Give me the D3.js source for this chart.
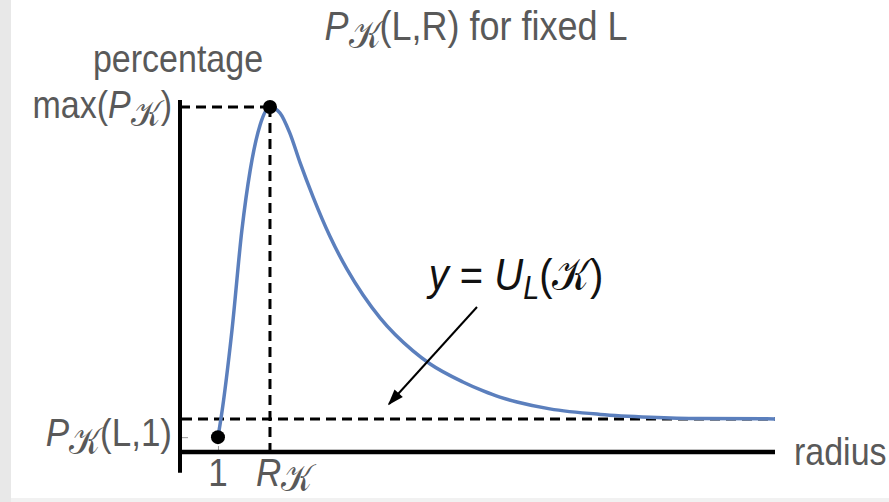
<!DOCTYPE html>
<html>
<head>
<meta charset="utf-8">
<script src="https://cdn.jsdelivr.net/npm/d3@7"></script>
<style>
  body { margin: 0; background: #fff; }
  text { font-family: "Liberation Sans", Arial, sans-serif; }
</style>
</head>
<body>
<div id="graphic"></div>
<script>
// values (radius in units of r, percentage scaled so max = 100)
let radius = [1.00, 1.06, 1.27, 1.46, 1.62, 1.81, 2.00, 2.19, 2.38, 2.58, 2.83, 3.15, 3.48, 3.79,
              4.12, 4.75, 5.08, 5.71, 6.10, 6.42, 6.75, 7.38, 8.35, 9.31, 10.27, 11.71];
let percentage = [4.3, 9.9, 35.4, 64.3, 81.7, 94.8, 100, 98.3, 92.5, 83.8, 73.9, 62.6, 53.0, 45.5,
                  38.8, 29.3, 25.5, 20.3, 17.7, 15.9, 14.5, 12.5, 10.9, 10.1, 9.7, 9.6];
let rK = 2.0;          // radius of the maximum
let pMax = 100;        // max(P_K)
let pAtOne = 4.3;      // P_K(L,1)
let uL = 9.6;          // asymptote U_L(K)
let xTicks = [1, rK];
let yTicks = [pAtOne, pMax];

let width = 889, height = 502;
let K = "\u{1D4A6}";

let svg = d3.select("#graphic")
  .append("svg")
    .attr("width", width)
    .attr("height", height);

// light frame at the left and bottom edge
svg.append("rect").attr("x", 0).attr("y", 0).attr("width", 11).attr("height", height).attr("fill", "#e8e8e8");
svg.append("rect").attr("x", 11).attr("y", 498).attr("width", width).attr("height", 4).attr("fill", "#f1f1f1");

let x = d3.scaleLinear().domain([0.27, 11.71]).range([180, 775]);
let y = d3.scaleLinear().domain([0, 100]).range([452, 107]);

// small grey ticks pointing inward
svg.append("g")
  .attr("transform", "translate(0," + y(0) + ")")
  .call(d3.axisBottom(x).tickValues(xTicks).tickSize(-6).tickFormat(""))
  .call(g => g.select(".domain").remove())
  .selectAll("line").attr("stroke", "#999").attr("stroke-width", 1);
svg.append("g")
  .attr("transform", "translate(" + x(0.27) + ",0)")
  .call(d3.axisLeft(y).tickValues(yTicks).tickSize(-8).tickFormat(""))
  .call(g => g.select(".domain").remove())
  .selectAll("line").attr("stroke", "#999").attr("stroke-width", 1);

// dashed guides
let dash = "10,6";
svg.append("line")
  .attr("x1", x(0.27)).attr("x2", x(rK)).attr("y1", y(pMax)).attr("y2", y(pMax))
  .attr("stroke", "#000").attr("stroke-width", 3).attr("stroke-dasharray", dash);
svg.append("line")
  .attr("x1", x(rK)).attr("x2", x(rK)).attr("y1", y(pMax)).attr("y2", y(0))
  .attr("stroke", "#000").attr("stroke-width", 3).attr("stroke-dasharray", dash);
svg.append("line")
  .attr("x1", x(0.27) + 2).attr("x2", x(11.71)).attr("y1", y(uL)).attr("y2", y(uL))
  .attr("stroke", "#000").attr("stroke-width", 3).attr("stroke-dasharray", dash);

// the curve
let line = d3.line()
  .x((d, i) => x(radius[i]))
  .y(d => y(d))
  .curve(d3.curveMonotoneX);
svg.append("path")
  .datum(percentage)
  .attr("d", line)
  .attr("fill", "none")
  .attr("stroke", "#5b7fbd")
  .attr("stroke-width", 3.5);

// axis lines (thick)
svg.append("line")
  .attr("x1", x(0.27)).attr("x2", x(0.27)).attr("y1", y(102)).attr("y2", y(-6))
  .attr("stroke", "#000").attr("stroke-width", 4);
svg.append("line")
  .attr("x1", x(0.27)).attr("x2", x(11.71)).attr("y1", y(0)).attr("y2", y(0))
  .attr("stroke", "#000").attr("stroke-width", 4.5);

// the two dots
svg.selectAll("circle.pt")
  .data([[1, pAtOne], [rK, pMax]])
  .enter()
  .append("circle")
    .attr("class", "pt")
    .attr("cx", d => x(d[0]))
    .attr("cy", d => y(d[1]))
    .attr("r", 7)
    .attr("fill", "#000");

// arrow pointing at the asymptote
svg.append("defs").append("marker")
  .attr("id", "head")
  .attr("viewBox", "0 0 10 10")
  .attr("refX", 9).attr("refY", 5)
  .attr("markerWidth", 9).attr("markerHeight", 8)
  .attr("markerUnits", "strokeWidth")
  .attr("orient", "auto")
  .append("path").attr("d", "M0,1.5 L10,5 L0,8.5 z").attr("fill", "#000");
svg.append("line")
  .attr("x1", 477).attr("y1", 307)
  .attr("x2", 389).attr("y2", 404)
  .attr("stroke", "#000").attr("stroke-width", 2)
  .attr("marker-end", "url(#head)");

// text with italics / subscripts, slightly stretched upward like the original
function label(px, py, parts, opts) {
  let t = svg.append("text")
    .attr("transform", "translate(" + px + "," + py + ") scale(1,1.13)")
    .attr("font-size", opts.size)
    .attr("fill", opts.color || "#595959")
    .attr("text-anchor", opts.anchor || "start");
  let shift = 0;
  parts.forEach(p => {
    let s = t.append("tspan").text(p.t);
    if (p.i) s.attr("font-style", "italic");
    let want = p.sub ? opts.size * (opts.sub || 0.2) : 0;
    if (want !== shift) { s.attr("dy", want - shift); shift = want; }
    if (p.sub) s.attr("font-size", opts.size * (p.k ? 0.95 : 0.72));
    if (p.k) s.attr("font-family", "DejaVu Sans");
  });
  return t;
}

label(476, 40, [{t: "P", i: 1}, {t: K, sub: 1, k: 1}, {t: "(L,R) for fixed L"}], {size: 36, anchor: "middle"});
label(178, 72, [{t: "percentage"}], {size: 34, anchor: "middle"});
label(172, 118, [{t: "max("}, {t: "P", i: 1}, {t: K, sub: 1, k: 1}, {t: ")"}], {size: 34, anchor: "end"});
label(172, 446, [{t: "P", i: 1}, {t: K, sub: 1, k: 1}, {t: "(L,1)"}], {size: 35, anchor: "end"});
label(x(1), 486, [{t: "1"}], {size: 35, anchor: "middle"});
label(x(rK) - 14, 486, [{t: "R", i: 1}, {t: K, sub: 1, k: 1}], {size: 35, sub: 0.12});
label(794, 465, [{t: "radius"}], {size: 34});
label(516, 290, [{t: "y", i: 1}, {t: " = "}, {t: "U", i: 1}, {t: "L", i: 1, sub: 1}, {t: "(" + K + ")"}], {size: 40, anchor: "middle", color: "#111"});
</script>
</body>
</html>
